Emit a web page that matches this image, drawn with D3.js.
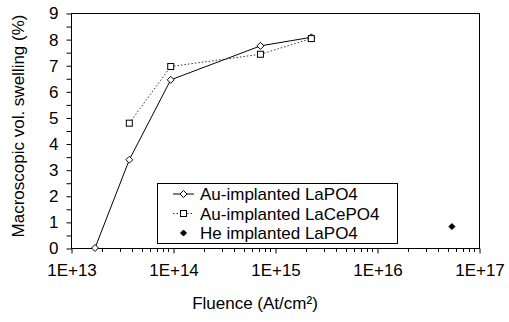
<!DOCTYPE html>
<html>
<head>
<meta charset="utf-8">
<script src="https://cdn.jsdelivr.net/npm/d3@7"></script>
<style>
  body { margin: 0; background: #fff; }
  svg text { font-family: Arial, "Liberation Sans", sans-serif; fill: #000; }
</style>
</head>
<body>
<svg id="chart" width="509" height="322"></svg>
<script>
// Au-implanted LaPO4
const auLaX = [1.72e13, 3.73e13, 9.5e13, 7.2e14, 2.27e15];
const auLaY = [0, 3.38, 6.44, 7.74, 8.07];
// Au-implanted LaCePO4
const auCeX = [3.73e13, 9.5e13, 7.2e14, 2.27e15];
const auCeY = [4.78, 6.95, 7.42, 8.02];
// He implanted LaPO4
const heX = [5.43e16];
const heY = [0.82];

const xTicks = [1e13, 1e14, 1e15, 1e16, 1e17];
const yTicks = [0, 1, 2, 3, 4, 5, 6, 7, 8, 9];
const legendLabels = ['Au-implanted LaPO4', 'Au-implanted LaCePO4', 'He implanted LaPO4'];

const m = { l: 71, r: 479, t: 13, b: 248 };
const svg = d3.select('#chart');

const x = d3.scaleLog().domain([1e13, 1e17]).range([m.l, m.r]);
const y = d3.scaleLinear().domain([0, 9]).range([m.b, m.t]);

const zip = (xs, ys) => xs.map((v, i) => ({ x: v, y: ys[i] }));
const sLa = zip(auLaX, auLaY), sCe = zip(auCeX, auCeY), sHe = zip(heX, heY);

// frame
svg.append('rect').attr('x', m.l + .5).attr('y', m.t + .5)
  .attr('width', m.r - m.l).attr('height', m.b - m.t)
  .attr('fill', 'none').attr('stroke', '#000');

// y axis: ticks every 0.5, labels on integers
const yAx = d3.axisLeft(y).tickValues(d3.range(0, 9.01, 0.5)).tickSize(5).tickPadding(8)
  .tickFormat(d => yTicks.includes(d) ? d : '');
const gy = svg.append('g').attr('transform', `translate(${m.l + .5},0.5)`).call(yAx);
gy.select('.domain').remove();
gy.selectAll('text').style('font-size', '17px');

// x axis: log, minor ticks below
const minors = [];
for (let e = 13; e < 17; e++) for (let k = 2; k <= 9; k++) minors.push(k * Math.pow(10, e));
svg.append('g').selectAll('line').data(minors).join('line')
  .attr('x1', d => Math.round(x(d)) + .5).attr('x2', d => Math.round(x(d)) + .5)
  .attr('y1', m.b).attr('y2', m.b + 4).attr('stroke', '#000');
const xAx = d3.axisBottom(x).tickValues(xTicks).tickSize(5).tickPadding(10)
  .tickFormat(d => '1E+' + Math.round(Math.log10(d)));
const gx = svg.append('g').attr('transform', `translate(0.5,${m.b + .5})`).call(xAx);
gx.select('.domain').remove();
gx.selectAll('text').style('font-size', '17px');

// titles
svg.append('text').attr('x', 255).attr('y', 309).attr('text-anchor', 'middle')
  .style('font-size', '17px').text('Fluence (At/cm²)');
svg.append('text').attr('transform', 'translate(24,126) rotate(-90)').attr('text-anchor', 'middle')
  .style('font-size', '17px').text('Macroscopic vol. swelling (%)');

const line = d3.line().x(d => x(d.x)).y(d => y(d.y));
const diamond = (g, r, fill) => g.append('path')
  .attr('d', `M0,${-r}L${r},0L0,${r}L${-r},0Z`).attr('fill', fill).attr('stroke', '#000');

svg.append('path').datum(sLa).attr('d', line).attr('fill', 'none').attr('stroke', '#000');
svg.append('path').datum(sCe).attr('d', line).attr('fill', 'none').attr('stroke', '#333')
  .attr('stroke-dasharray', '1.5,2');

svg.append('g').selectAll('g').data(sLa).join('g')
  .attr('transform', d => `translate(${x(d.x)},${y(d.y)})`)
  .each(function () { diamond(d3.select(this), 3.5, '#fff'); });
svg.append('g').selectAll('rect').data(sCe).join('rect')
  .attr('x', d => x(d.x) - 3).attr('y', d => y(d.y) - 3).attr('width', 6).attr('height', 6)
  .attr('fill', '#fff').attr('stroke', '#000');
svg.append('g').selectAll('g').data(sHe).join('g')
  .attr('transform', d => `translate(${x(d.x)},${y(d.y)})`)
  .each(function () { diamond(d3.select(this), 3, '#000'); });

// legend
const lg = svg.append('g');
lg.append('rect').attr('x', 157.5).attr('y', 183.5).attr('width', 240).attr('height', 60)
  .attr('fill', '#fff').attr('stroke', '#000');
const rows = [194, 213.5, 233];
legendLabels.forEach((t, i) => {
  const ry = rows[i];
  if (i < 2) lg.append('line').attr('x1', 173).attr('x2', 194).attr('y1', ry).attr('y2', ry)
    .attr('stroke', i === 0 ? '#000' : '#333').attr('stroke-dasharray', i === 0 ? null : '1.5,2');
  const mk = lg.append('g').attr('transform', `translate(183.5,${ry})`);
  if (i === 0) diamond(mk, 3.5, '#fff');
  else if (i === 1) mk.append('rect').attr('x', -3).attr('y', -3).attr('width', 6).attr('height', 6)
    .attr('fill', '#fff').attr('stroke', '#000');
  else diamond(mk, 3, '#000');
  lg.append('text').attr('x', 200).attr('y', ry + 6).style('font-size', '17px').text(t);
});
</script>
</body>
</html>
